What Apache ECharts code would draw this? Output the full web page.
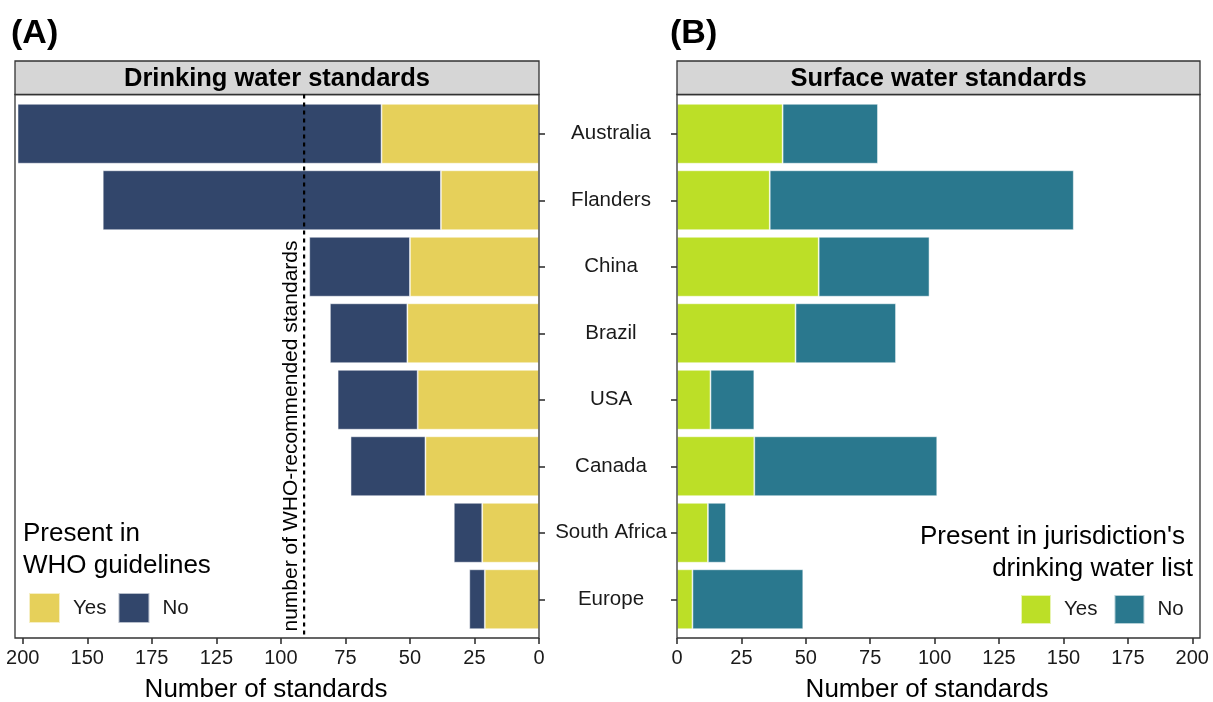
<!DOCTYPE html>
<html>
<head>
<meta charset="utf-8">
<script src="https://cdn.jsdelivr.net/npm/echarts@6/dist/echarts.min.js"></script>
<style>
html,body{margin:0;padding:0;background:#fff;}
#chart{width:1213px;height:702px;}
</style>
</head>
<body>
<div id="chart"></div>
<script>
// ---- data ----
const countries = ["Australia", "Flanders", "China", "Brazil", "USA", "Canada", "South Africa", "Europe"];
// (A) Drinking water standards: present in WHO guidelines
const whoYes = [61, 38, 50, 51, 47, 44, 22, 21];
const whoNo  = [141, 131, 39, 30, 31, 29, 11, 6];
// (B) Surface water standards: present in jurisdiction's drinking water list
const listYes = [41, 36, 55, 46, 13, 30, 12, 6];
const listNo  = [37, 118, 43, 39, 17, 71, 7, 43];
// number of WHO-recommended standards
const whoLine = 91;
// axis ticks
const tickValues = [0, 25, 50, 75, 100, 125, 150, 175, 200];
const leftTickLabels  = ["0", "25", "50", "75", "100", "125", "175", "150", "200"];
const rightTickLabels = ["0", "25", "50", "75", "100", "125", "150", "175", "200"];
const axisMax = 203;

const FONT = "'Liberation Sans', Arial, Helvetica, sans-serif";
const C_YEL = "#E6D05A", C_NAVY = "#32466B", C_LIME = "#BCDF27", C_TEAL = "#2A788E";

const chart = echarts.init(document.getElementById('chart'), null, {renderer: 'canvas'});

const P = { top: 94.5, bottom: 638, stripTop: 61 };
const L = { x0: 15, x1: 539 };
const R = { x0: 677, x1: 1200 };
const gridTop = 100.5, gridH = 532;
const TICK = { length: 6, lineStyle: { color: '#333', width: 1.6 } };

function xAxisCfg(grid, inverse, labels) {
  return {
    type: 'value', gridIndex: grid, inverse: inverse, min: 0, max: axisMax,
    offset: P.bottom - (gridTop + gridH),
    axisLine: { show: false },
    splitLine: { show: false },
    axisTick: Object.assign({ show: true, customValues: tickValues }, TICK),
    axisLabel: {
      show: true, customValues: tickValues, margin: 10,
      fontFamily: FONT, fontSize: 20, color: '#1a1a1a',
      formatter: function (v) { const i = tickValues.indexOf(v); return i >= 0 ? labels[i] : ''; }
    }
  };
}

const barBorder = { borderColor: 'rgba(255,255,255,0.65)', borderWidth: 0.8 };

const option = {
  animation: false,
  backgroundColor: '#ffffff',
  grid: [
    { left: L.x0, top: gridTop, width: L.x1 - L.x0, height: gridH, outerBoundsMode: 'none' },
    { left: R.x0, top: gridTop, width: R.x1 - R.x0, height: gridH, outerBoundsMode: 'none' }
  ],
  xAxis: [ xAxisCfg(0, true, leftTickLabels), xAxisCfg(1, false, rightTickLabels) ],
  yAxis: [
    { type: 'category', gridIndex: 0, data: countries, inverse: true, position: 'right', offset: 4,
      axisLine: { show: false }, axisLabel: { show: false },
      axisTick: Object.assign({ show: true, alignWithLabel: true }, TICK) },
    { type: 'category', gridIndex: 1, data: countries, inverse: true, position: 'left',
      axisLine: { show: false },
      axisTick: Object.assign({ show: true, alignWithLabel: true }, TICK),
      axisLabel: { show: true, align: 'center', margin: 66, fontFamily: FONT, fontSize: 20.5, color: '#1a1a1a' } }
  ],
  legend: [
    { data: ['WHO Yes', 'WHO No'], left: 28, top: 592, padding: 0, orient: 'horizontal',
      itemWidth: 31, itemHeight: 30, itemGap: 11, icon: 'rect',
      formatter: function (n) { return n.replace('WHO ', ''); },
      textStyle: { fontFamily: FONT, fontSize: 20.5, color: '#1a1a1a', padding: [0, 0, 0, 8] } },
    { data: ['List Yes', 'List No'], left: 1020, top: 594, padding: 0, orient: 'horizontal',
      itemWidth: 30, itemHeight: 29, itemGap: 16, icon: 'rect',
      formatter: function (n) { return n.replace('List ', ''); },
      textStyle: { fontFamily: FONT, fontSize: 20.5, color: '#1a1a1a', padding: [0, 0, 0, 8] } }
  ],
  series: [
    { name: 'WHO Yes', type: 'bar', stack: 'who', xAxisIndex: 0, yAxisIndex: 0, data: whoYes,
      barWidth: '90%', itemStyle: Object.assign({ color: C_YEL }, barBorder) },
    { name: 'WHO No', type: 'bar', stack: 'who', xAxisIndex: 0, yAxisIndex: 0, data: whoNo,
      barWidth: '90%', itemStyle: Object.assign({ color: C_NAVY }, barBorder) },
    { name: 'List Yes', type: 'bar', stack: 'list', xAxisIndex: 1, yAxisIndex: 1, data: listYes,
      barWidth: '90%', itemStyle: Object.assign({ color: C_LIME }, barBorder) },
    { name: 'List No', type: 'bar', stack: 'list', xAxisIndex: 1, yAxisIndex: 1, data: listNo,
      barWidth: '90%', itemStyle: Object.assign({ color: C_TEAL }, barBorder) }
  ]
};
chart.setOption(option);

// graphics: panel borders, strips, labels, WHO line
const lineX = chart.convertToPixel({ xAxisIndex: 0 }, whoLine);
function txt(x, y, s, size, opts) {
  return Object.assign({ type: 'text', x: x, y: y, silent: true, z: 50,
    style: Object.assign({ text: s, fontFamily: FONT, fontSize: size, fill: '#000',
      textAlign: 'left', textVerticalAlign: 'middle' }, opts && opts.style) }, opts && opts.el);
}
const graphics = [
  // panel borders
  { type: 'rect', shape: { x: L.x0, y: P.top, width: L.x1 - L.x0, height: P.bottom - P.top }, z: 40,
    style: { fill: 'none', stroke: '#333', lineWidth: 1.3 } },
  { type: 'rect', shape: { x: R.x0, y: P.top, width: R.x1 - R.x0, height: P.bottom - P.top }, z: 40,
    style: { fill: 'none', stroke: '#333', lineWidth: 1.3 } },
  // strips
  { type: 'rect', shape: { x: L.x0, y: P.stripTop, width: L.x1 - L.x0, height: P.top - P.stripTop }, z: 40,
    style: { fill: '#d6d6d6', stroke: '#333', lineWidth: 1.3 } },
  { type: 'rect', shape: { x: R.x0, y: P.stripTop, width: R.x1 - R.x0, height: P.top - P.stripTop }, z: 40,
    style: { fill: '#d6d6d6', stroke: '#333', lineWidth: 1.3 } },
  txt((L.x0 + L.x1) / 2, (P.top + P.stripTop) / 2 + 1, 'Drinking water standards', 25.5,
      { style: { fontWeight: 'bold', textAlign: 'center' } }),
  txt((R.x0 + R.x1) / 2, (P.top + P.stripTop) / 2 + 1, 'Surface water standards', 25.5,
      { style: { fontWeight: 'bold', textAlign: 'center' } }),
  // panel tags
  txt(11, 34, '(A)', 34, { style: { fontWeight: 'bold' } }),
  txt(670, 34, '(B)', 34, { style: { fontWeight: 'bold' } }),
  // axis titles
  txt(266, 690, 'Number of standards', 26, { style: { textAlign: 'center' } }),
  txt(927, 690, 'Number of standards', 26, { style: { textAlign: 'center' } }),
  // legend titles
  txt(23, 534, 'Present in', 26),
  txt(23, 566, 'WHO guidelines', 26),
  txt(1185, 537, "Present in jurisdiction's", 26, { style: { textAlign: 'right' } }),
  txt(1193, 569, 'drinking water list', 26, { style: { textAlign: 'right' } }),
  // WHO dashed line
  { type: 'line', z: 45, silent: true, shape: { x1: lineX, y1: P.top, x2: lineX, y2: P.bottom },
    style: { stroke: '#000', lineWidth: 2.2, lineDash: [4, 4] } },
  // rotated annotation
  { type: 'text', x: lineX - 13, y: 436, rotation: Math.PI / 2, z: 50, silent: true,
    style: { text: 'number of WHO-recommended standards', fontFamily: FONT, fontSize: 21, fill: '#000',
      textAlign: 'center', textVerticalAlign: 'middle' } }
];
chart.setOption({ graphic: graphics });
</script>
</body>
</html>
